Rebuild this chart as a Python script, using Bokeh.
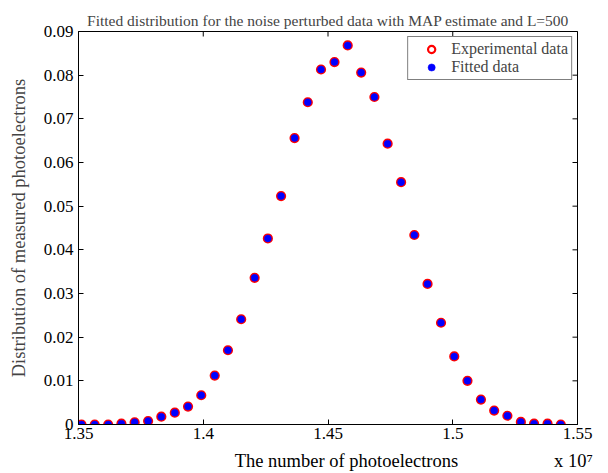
import math
from bokeh.plotting import figure
from bokeh.models import (FixedTicker, Range1d, Legend, LegendItem, LinearAxis,
                          CustomJSTickFormatter, ColumnDataSource)
from bokeh.embed import file_html
from bokeh.resources import INLINE

# number of photoelectrons, in units of 1e7
photoelectrons_1e7 = [1.3512, 1.3565, 1.3619, 1.3672, 1.3725, 1.3779, 1.3832, 1.3886,
                      1.3939, 1.3992, 1.4046, 1.4099, 1.4152, 1.4206, 1.4259, 1.4312,
                      1.4366, 1.4419, 1.4472, 1.4526, 1.4579, 1.4633, 1.4686, 1.4739,
                      1.4793, 1.4846, 1.4899, 1.4953, 1.5006, 1.5059, 1.5113, 1.5166,
                      1.5219, 1.5273, 1.5326, 1.5380, 1.5433]
experimental = [0.0000, 0.0000, 0.0000, 0.0002, 0.0005, 0.0008, 0.0018, 0.0027,
                0.0041, 0.0067, 0.0112, 0.0170, 0.0241, 0.0336, 0.0426, 0.0523,
                0.0656, 0.0738, 0.0813, 0.0830, 0.0868, 0.0806, 0.0750, 0.0643,
                0.0555, 0.0434, 0.0322, 0.0233, 0.0156, 0.0100, 0.0057, 0.0032,
                0.0020, 0.0006, 0.0002, 0.0002, 0.0000]
fitted = [0.0000, 0.0000, 0.0000, 0.0002, 0.0005, 0.0008, 0.0018, 0.0027,
          0.0041, 0.0067, 0.0112, 0.0170, 0.0241, 0.0336, 0.0426, 0.0523,
          0.0656, 0.0738, 0.0813, 0.0830, 0.0868, 0.0806, 0.0750, 0.0643,
          0.0555, 0.0434, 0.0322, 0.0233, 0.0156, 0.0100, 0.0057, 0.0032,
          0.0020, 0.0006, 0.0002, 0.0002, 0.0000]
x_ticks = [1.35, 1.4, 1.45, 1.5, 1.55]
y_ticks = [0, 0.01, 0.02, 0.03, 0.04, 0.05, 0.06, 0.07, 0.08, 0.09]
x_label_texts = ["The number of photoelectrons", "x 10\u2077"]

FONT = "Liberation Serif"
X_MIN, X_MAX = 1.35, 1.55
Y_MIN, Y_MAX = 0.0, 0.09

src = ColumnDataSource(dict(x=photoelectrons_1e7, exp=experimental, fit=fitted))

p = figure(width=608, height=473,
           x_range=Range1d(X_MIN, X_MAX), y_range=Range1d(Y_MIN, Y_MAX),
           output_backend="svg", toolbar_location=None,
           min_border_left=78, min_border_right=31, min_border_top=31,
           min_border_bottom=49)
p.background_fill_color = "white"
p.border_fill_color = "white"
p.outline_line_color = "black"
p.outline_line_width = 1
p.xgrid.visible = False
p.ygrid.visible = False

p.title.text = "Fitted distribution for the noise perturbed data with MAP estimate and L=500"
p.title.text_font = FONT
p.title.text_font_size = "15.5px"
p.title.text_font_style = "normal"
p.title.align = "center"
p.title.standoff = 6

xfmt = CustomJSTickFormatter(code="return String(parseFloat(tick.toFixed(2)));")
yfmt = CustomJSTickFormatter(code="return tick == 0 ? '0' : tick.toFixed(2);")

for ax, ticks, fmt in ((p.xaxis[0], x_ticks, xfmt), (p.yaxis[0], y_ticks, yfmt)):
    ax.ticker = FixedTicker(ticks=ticks)
    ax.formatter = fmt
    ax.major_tick_in = 5
    ax.major_tick_out = 0
    ax.minor_tick_line_color = None
    ax.axis_line_color = "black"
    ax.major_tick_line_color = "black"
    ax.major_label_text_font = FONT
    ax.major_label_text_color = "black"
    ax.major_label_text_font_size = "17px"
p.xaxis[0].major_label_standoff = 3
p.yaxis[0].major_label_standoff = 5
p.yaxis[0].axis_label = "Distribution of measured photoelectrons"
p.yaxis[0].axis_label_text_font = FONT
p.yaxis[0].axis_label_text_font_size = "18.5px"
p.yaxis[0].axis_label_text_font_style = "normal"
p.yaxis[0].axis_label_standoff = 12

# second, bare axis below that carries the x label and the x10^7 multiplier
label_axis = LinearAxis(
    ticker=FixedTicker(ticks=[1.4574, 1.5484]),
    formatter=CustomJSTickFormatter(args=dict(labels=x_label_texts),
                                    code="return labels[index];"),
    axis_line_color=None, major_tick_line_color=None, minor_tick_line_color=None,
    major_tick_in=0, major_tick_out=0, major_label_standoff=9,
    major_label_text_font=FONT, major_label_text_font_size="18.5px",
    major_label_text_color="black")
p.add_layout(label_axis, "below")

# inward ticks on the top and right edges of the box (half of each dash is clipped)
p.scatter(x=x_ticks, y=[Y_MAX] * len(x_ticks), marker="dash", size=10,
          angle=math.pi / 2, line_color="black", line_width=1)
p.scatter(x=[X_MAX] * len(y_ticks), y=y_ticks, marker="dash", size=10,
          line_color="black", line_width=1)

r_exp = p.scatter("x", "exp", source=src, marker="circle", size=8,
                  fill_color=None, line_color="red", line_width=2.2)
r_fit = p.scatter("x", "fit", source=src, marker="circle", size=7,
                  fill_color="blue", line_color="blue", line_width=0.5)

legend = Legend(items=[LegendItem(label="Experimental data", renderers=[r_exp]),
                       LegendItem(label="Fitted data", renderers=[r_fit])],
                location="top_right", margin=5, padding=3, spacing=0,
                glyph_width=40, glyph_height=18, label_height=18,
                label_standoff=0, label_text_font=FONT,
                label_text_font_size="16px", border_line_color="black",
                border_line_width=1, background_fill_alpha=1)
p.add_layout(legend)

open("out.html", "w").write(file_html(p, INLINE))
